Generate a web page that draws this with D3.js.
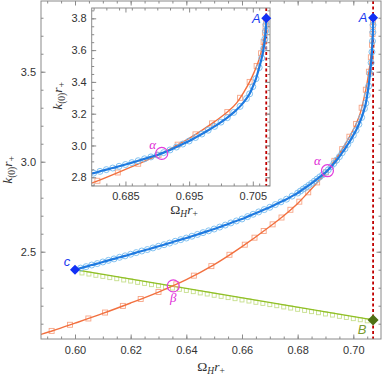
<!DOCTYPE html>
<html lang="en">
<head>
<meta charset="UTF-8">
<title>k0 vs OmegaH</title>
<script src="https://cdn.jsdelivr.net/npm/d3@7"></script>
<style>
    body{ margin:0; background:#fff; }
    svg{ display:block; }
    .tick text{ font-family:"Liberation Sans", Arial, sans-serif; font-size:11px; fill:#333; }
    .tick line{ stroke:#8a8a8a; }
    .lbl{ font-family:"Liberation Serif", "DejaVu Serif", serif; font-size:13.5px; fill:#333; }
</style>
</head>
<body>
<script type="text/javascript">

    // blue branch (line + open circles)
    let blueOmega = [0.600,0.602,0.604,0.606,0.608,0.610,0.612,0.614,0.616,0.618,
                     0.620,0.622,0.624,0.626,0.628,0.630,0.632,0.634,0.636,0.638,
                     0.640,0.642,0.644,0.646,0.648,0.650,0.652,0.654,0.656,0.658,
                     0.660,0.662,0.664,0.666,0.668,0.670,0.672,0.674,0.676,0.678,
                     0.680,0.681,0.682,0.683,0.684,0.685,0.686,0.687,0.688,0.689,
                     0.690,0.691,0.692,0.693,0.694,0.695,0.696,0.697,0.698,0.699,
                     0.700,0.701,0.702,0.703,0.704,0.7045,0.705,0.7055,0.706,0.7064,
                     0.7067,0.7069,0.70703,0.70708,0.70711];
    let blueK = [2.400,2.409,2.417,2.426,2.434,2.443,2.452,2.460,2.469,2.477,
                 2.486,2.495,2.504,2.512,2.521,2.530,2.539,2.548,2.558,2.567,
                 2.576,2.586,2.596,2.606,2.616,2.626,2.637,2.648,2.660,2.671,
                 2.682,2.695,2.708,2.721,2.734,2.747,2.762,2.777,2.792,2.809,
                 2.826,2.837,2.848,2.858,2.869,2.880,2.892,2.904,2.916,2.928,
                 2.940,2.955,2.972,2.990,3.009,3.028,3.050,3.072,3.096,3.120,
                 3.147,3.175,3.208,3.246,3.295,3.325,3.370,3.420,3.490,3.550,
                 3.610,3.670,3.720,3.760,3.800];

    // orange branch: line and square markers
    let orangeOmega = [0.587,0.592,0.600,0.610,0.620,0.630,0.6353,0.640,0.650,0.660,
                       0.670,0.675,0.680,0.685,0.6907,0.693,0.695,0.697,0.699,0.701,
                       0.7025,0.7035,0.7045,0.7052,0.7058,0.7062,0.7066,0.7069,0.7071];
    let orangeK = [2.037,2.061,2.103,2.157,2.215,2.276,2.311,2.345,2.428,2.528,
                   2.640,2.700,2.768,2.850,2.950,3.000,3.045,3.095,3.150,3.210,
                   3.270,3.330,3.400,3.460,3.520,3.570,3.640,3.710,3.790];
    let orangeMarkOmega = [0.5916,0.5982,0.6048,0.6108,0.6172,0.6236,0.6300,0.6364,0.6427,0.6490,
                           0.6555,0.6610,0.6645,0.6678,0.6710,0.6742,0.6774,0.6806,0.6838,0.6870,
                           0.6902,0.6932,0.6960,0.6986,0.7010,0.7030,0.7045,0.7056,0.7063,0.7067,
                           0.7069,0.7070,0.7071];
    let orangeMarkK = [2.060,2.094,2.129,2.162,2.199,2.237,2.276,2.319,2.367,2.420,
                       2.483,2.539,2.578,2.615,2.652,2.690,2.733,2.778,2.830,2.885,
                       2.941,3.005,3.070,3.139,3.210,3.300,3.400,3.500,3.580,3.650,
                       3.710,3.750,3.780];

    // green branch c -> B
    let greenOmega = [0.600,0.70711];
    let greenK = [2.400,2.121];
    let greenMarkOmega = [0.6025,0.6050,0.6075,0.6100,0.6125,0.6150,0.6175,0.6200,0.6225,0.6250,
                          0.6275,0.6300,0.6325,0.6350,0.6375,0.6400,0.6425,0.6450,0.6475,0.6500,
                          0.6525,0.6550,0.6575,0.6600,0.6625,0.6650,0.6675,0.6700,0.6725,0.6750,
                          0.6775,0.6800,0.6825,0.6850,0.6875,0.6900,0.6925,0.6950,0.6975,0.7000,
                          0.7025,0.7050];
    let greenMarkK = [2.382,2.376,2.369,2.363,2.356,2.350,2.343,2.337,2.330,2.324,
                      2.317,2.311,2.304,2.298,2.291,2.285,2.278,2.271,2.265,2.258,
                      2.252,2.245,2.239,2.232,2.226,2.219,2.213,2.206,2.200,2.193,
                      2.187,2.180,2.174,2.167,2.161,2.154,2.148,2.141,2.135,2.128,
                      2.122,2.116];

    let omegaMax = 0.70711;
    let pointA = [0.70711, 3.800];
    let pointB = [0.70711, 2.121];
    let pointC = [0.600, 2.400];
    let pointAlpha = [0.6907, 2.950];
    let pointBeta = [0.6353, 2.310];

    // tick labels
    let xTicks = [0.60,0.62,0.64,0.66,0.68,0.70];
    let yTicks = [2.5,3.0,3.5];
    let xTicksInset = [0.685,0.695,0.705];
    let yTicksInset = [2.8,3.0,3.2,3.4,3.6,3.8];

    let width = 382, height = 379;
    let svg = d3.select("body").append("svg")
        .attr("width",width).attr("height",height);

    let zip = (a,b)=>a.map((v,i)=>[v,b[i]]);
    let blue = zip(blueOmega,blueK);
    let orange = zip(orangeOmega,orangeK);
    let orangeMarks = zip(orangeMarkOmega,orangeMarkK);
    let green = zip(greenOmega,greenK);
    let greenMarks = zip(greenMarkOmega,greenMarkK);

    let x = d3.scaleLinear().domain([0.58778,0.70995]).range([41,381]);
    let y = d3.scaleLinear().domain([2.015,3.893]).range([339,1]);
    let xi = d3.scaleLinear().domain([0.6797,0.7077]).range([91.7,270]);
    let yi = d3.scaleLinear().domain([2.745,3.865]).range([186,8]);

    let defs = svg.append("defs");
    let addClip = (id,xs,ys)=>{
        defs.append("clipPath").attr("id",id).append("rect")
            .attr("x",xs.range()[0]).attr("y",ys.range()[1])
            .attr("width",xs.range()[1]-xs.range()[0])
            .attr("height",ys.range()[0]-ys.range()[1]);
    };
    addClip("clipMain",x,y);
    addClip("clipInset",xi,yi);

    let drawFrame = (g,xs,ys,xMaj,xMinStep,yMaj,yMinStep,xFmt,yFmt,padX,padY)=>{
        let [x0,x1] = xs.range(), [y0,y1] = ys.range();
        let xMin = d3.range(Math.ceil(xs.domain()[0]/xMinStep)*xMinStep, xs.domain()[1], xMinStep);
        let yMin = d3.range(Math.ceil(ys.domain()[0]/yMinStep)*yMinStep, ys.domain()[1], yMinStep);
        let clean = a=>a.remove();
        let put = (axis,tr)=>g.append("g").attr("transform",tr).call(axis).call(s=>s.select(".domain").remove());
        put(d3.axisBottom(xs).tickValues(xMin).tickFormat("").tickSizeInner(-2.5).tickSizeOuter(0),`translate(0,${y0})`);
        put(d3.axisTop(xs).tickValues(xMin).tickFormat("").tickSizeInner(-2.5).tickSizeOuter(0),`translate(0,${y1})`);
        put(d3.axisLeft(ys).tickValues(yMin).tickFormat("").tickSizeInner(-2.5).tickSizeOuter(0),`translate(${x0},0)`);
        put(d3.axisRight(ys).tickValues(yMin).tickFormat("").tickSizeInner(-2.5).tickSizeOuter(0),`translate(${x1},0)`);
        put(d3.axisBottom(xs).tickValues(xMaj).tickFormat(xFmt).tickSizeInner(-4.5).tickSizeOuter(0).tickPadding(padX),`translate(0,${y0})`);
        put(d3.axisTop(xs).tickValues(xMaj).tickFormat("").tickSizeInner(-4.5).tickSizeOuter(0),`translate(0,${y1})`);
        put(d3.axisLeft(ys).tickValues(yMaj).tickFormat(yFmt).tickSizeInner(-4.5).tickSizeOuter(0).tickPadding(padY),`translate(${x0},0)`);
        put(d3.axisRight(ys).tickValues(yMaj).tickFormat("").tickSizeInner(-4.5).tickSizeOuter(0),`translate(${x1},0)`);
        g.append("rect").attr("x",x0).attr("y",y1).attr("width",x1-x0).attr("height",y0-y1)
            .attr("fill","none").attr("stroke","#8a8a8a").attr("stroke-width",1);
    };

    let drawCurves = (g,xs,ys,clipId)=>{
        let c = g.append("g").attr("clip-path",`url(#${clipId})`);
        let line = d3.line().x(d=>xs(d[0])).y(d=>ys(d[1])).curve(d3.curveMonotoneX);

        // red dashed asymptote
        c.append("line")
            .attr("x1",xs(omegaMax)).attr("x2",xs(omegaMax))
            .attr("y1",ys.range()[1]).attr("y2",ys.range()[0])
            .attr("stroke","#c00000").attr("stroke-width",1.8).attr("stroke-dasharray","3,2.5");

        // green
        c.append("g").selectAll("rect").data(greenMarks).join("rect")
            .attr("x",d=>xs(d[0])-2).attr("y",d=>ys(d[1])-2)
            .attr("width",4).attr("height",4)
            .attr("fill","none").attr("stroke","#c6df8c").attr("stroke-width",0.9);
        c.append("path").datum(green).attr("d",line)
            .attr("fill","none").attr("stroke","#8fbf24").attr("stroke-width",1.3);

        // orange
        c.append("g").selectAll("rect").data(orangeMarks).join("rect")
            .attr("x",d=>xs(d[0])-2.5).attr("y",d=>ys(d[1])-2.5)
            .attr("width",5).attr("height",5)
            .attr("fill","none").attr("stroke","#f7a586").attr("stroke-width",0.9);
        c.append("path").datum(orange).attr("d",line)
            .attr("fill","none").attr("stroke","#f2703f").attr("stroke-width",1.4);

        // blue
        c.append("g").selectAll("circle").data(blue).join("circle")
            .attr("cx",d=>xs(d[0])).attr("cy",d=>ys(d[1])).attr("r",3)
            .attr("fill","none").attr("stroke","#74bbef").attr("stroke-width",0.9);
        c.append("path").datum(blue).attr("d",line)
            .attr("fill","none").attr("stroke","#1f7ae0").attr("stroke-width",2.2);

        return c;
    };

    let diamond = (g,px,py,r,color)=>{
        g.append("path")
            .attr("d",`M${px},${py-r}L${px+r},${py}L${px},${py+r}L${px-r},${py}Z`)
            .attr("fill",color);
    };
    let ring = (g,px,py)=>{
        g.append("circle").attr("cx",px).attr("cy",py).attr("r",6)
            .attr("fill","none").attr("stroke","#e23ddc").attr("stroke-width",1.2);
    };
    let tag = (g,txt,px,py,color,font)=>{
        g.append("text").attr("x",px).attr("y",py).attr("text-anchor","middle")
            .attr("dominant-baseline","central")
            .style("font-family",font||"'Liberation Serif', serif").style("font-style","italic")
            .style("font-size","13px").attr("fill",color).text(txt);
    };

    // math labels built from tspans: [text, italic, subscript]
    let mathLabel = (g,parts,px,py,rot)=>{
        let t = g.append("text").attr("class","lbl").attr("text-anchor","middle")
            .attr("transform",`translate(${px},${py}) rotate(${rot||0})`);
        let sub = false;
        parts.forEach(p=>{
            let s = t.append("tspan").text(p[0]).style("font-style",p[1]?"italic":"normal");
            if(p[2] && !sub){ s.attr("dy",3).style("font-size","9.5px"); sub = true; }
            else if(p[2]){ s.style("font-size","9.5px"); }
            else if(sub){ s.attr("dy",-3); sub = false; }
        });
    };
    let kLabel = [["k",true,false],["(0)",false,true],["r",true,false],["+",false,true]];
    let omegaLabel = [["Ω",false,false],["H",true,true],["r",true,false],["+",false,true]];

    // ---------- main plot ----------
    let mainG = svg.append("g");
    drawCurves(mainG,x,y,"clipMain");
    drawFrame(mainG,x,y,xTicks,0.005,yTicks,0.1,d3.format(".2f"),d3.format(".1f"),7,5);

    ring(mainG,x(pointAlpha[0]),y(pointAlpha[1]));
    ring(mainG,x(pointBeta[0]),y(pointBeta[1]));
    diamond(mainG,x(pointA[0]),y(pointA[1]),5,"#1230f5");
    diamond(mainG,x(pointC[0]),y(pointC[1]),5,"#1230f5");
    diamond(mainG,x(pointB[0]),y(pointB[1]),5.5,"#4e7114");
    tag(mainG,"A",x(pointA[0])-10,y(pointA[1]),"#1a3cf0","'Liberation Sans', sans-serif");
    tag(mainG,"c",x(pointC[0])-8,y(pointC[1])-8,"#1a3cf0","'Liberation Sans', sans-serif");
    tag(mainG,"B",x(pointB[0])-11,y(pointB[1])+10,"#7a9c30","'Liberation Sans', sans-serif");
    tag(mainG,"α",x(pointAlpha[0])-10,y(pointAlpha[1])-10,"#e02ad6");
    tag(mainG,"β",x(pointBeta[0]),y(pointBeta[1])+12,"#e02ad6");

    mathLabel(mainG,kLabel,12,170,-90);
    mathLabel(mainG,omegaLabel,211,371,0);

    // ---------- inset ----------
    let insetG = svg.append("g");
    insetG.append("rect")
        .attr("x",xi.range()[0]).attr("y",yi.range()[1])
        .attr("width",xi.range()[1]-xi.range()[0]).attr("height",yi.range()[0]-yi.range()[1])
        .attr("fill","#fff");
    drawCurves(insetG,xi,yi,"clipInset");
    drawFrame(insetG,xi,yi,xTicksInset,0.002,yTicksInset,0.05,d3.format(".3f"),d3.format(".1f"),6,5);

    ring(insetG,xi(pointAlpha[0]),yi(pointAlpha[1]));
    diamond(insetG,xi(pointA[0]),yi(pointA[1]),5,"#1230f5");
    tag(insetG,"A",xi(pointA[0])-10,yi(pointA[1]),"#1a3cf0","'Liberation Sans', sans-serif");
    tag(insetG,"α",xi(pointAlpha[0])-9,yi(pointAlpha[1])-9,"#e02ad6");

    mathLabel(insetG,kLabel,62,96,-90);
    mathLabel(insetG,omegaLabel,184,214,0);

</script>
</body>
</html>
